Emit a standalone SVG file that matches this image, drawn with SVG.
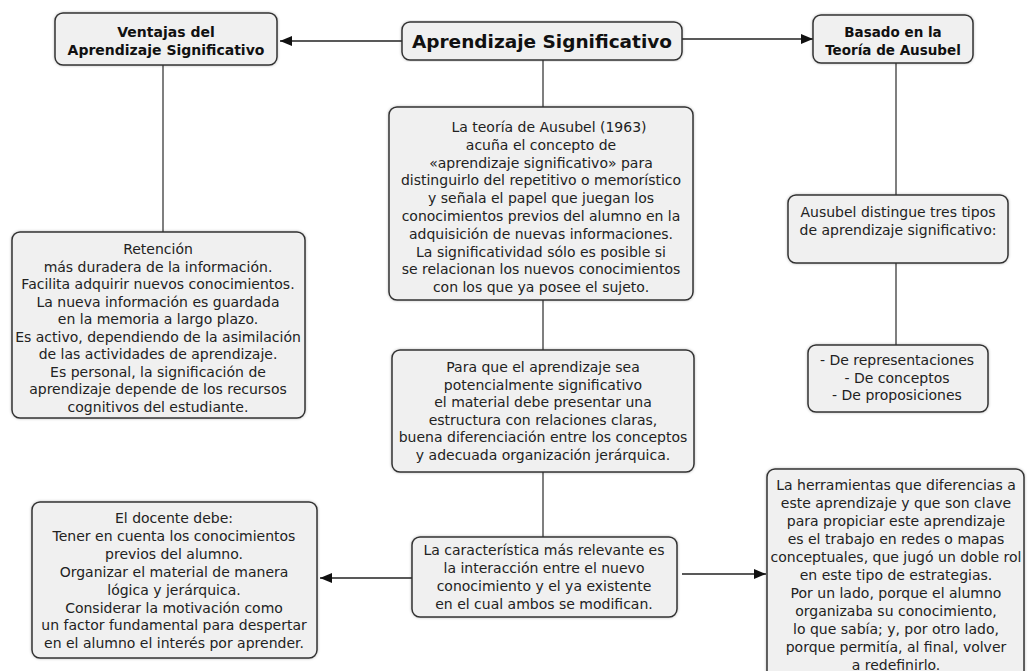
<svg xmlns="http://www.w3.org/2000/svg" width="1028" height="671" viewBox="0 0 1028 671">
<style>
.box{fill:#f0f0f0;stroke:#333;stroke-width:1.5}
.t{font-family:"DejaVu Sans",Verdana,sans-serif;font-size:14px;fill:#222;text-anchor:middle}
.b{font-family:"DejaVu Sans",Verdana,sans-serif;font-weight:bold;font-size:14px;fill:#111;text-anchor:middle}
.ln{stroke:#555;stroke-width:1.5;fill:none}
.ar{stroke:#222;stroke-width:1.5;fill:none;marker-end:url(#ah)}
</style>
<defs>
<marker id="ah" viewBox="0 0 12 10" refX="12" refY="5" markerWidth="12" markerHeight="10" markerUnits="userSpaceOnUse" orient="auto">
<path d="M0,0 L12,5 L0,10 z" fill="#111"/>
</marker>
<filter id="sh" x="-5%" y="-5%" width="110%" height="110%">
<feGaussianBlur in="SourceAlpha" stdDeviation="1.5"/>
<feOffset dx="0" dy="0" result="b"/>
<feComponentTransfer><feFuncA type="linear" slope="0.25"/></feComponentTransfer>
<feMerge><feMergeNode/><feMergeNode in="SourceGraphic"/></feMerge>
</filter>
</defs>
<rect width="1028" height="671" fill="#fff"/>

<g id="connectors">
<line class="ar" x1="402" y1="41" x2="280" y2="41"/>
<line class="ar" x1="682" y1="39" x2="813" y2="39"/>
<line class="ln" x1="163" y1="65" x2="163" y2="232"/>
<line class="ln" x1="543" y1="60" x2="543" y2="107"/>
<line class="ln" x1="543" y1="300" x2="543" y2="350"/>
<line class="ln" x1="543" y1="472" x2="543" y2="537"/>
<line class="ln" x1="896" y1="63" x2="896" y2="195"/>
<line class="ln" x1="896" y1="263" x2="896" y2="345"/>
<line class="ar" x1="412" y1="578" x2="320" y2="578"/>
<line class="ar" x1="682" y1="574" x2="766" y2="574"/>
</g>

<g id="main">
<rect class="box" filter="url(#sh)" x="402" y="22" width="280" height="38" rx="8"/>
<text class="b" style="font-size:18.5px" x="542" y="48">Aprendizaje Significativo</text>
</g>

<g id="ventajas">
<rect class="box" filter="url(#sh)" x="55" y="13" width="222" height="52" rx="8"/>
<text class="b" x="166" y="37">Ventajas del<tspan x="166" dy="18">Aprendizaje Significativo</tspan></text>
</g>

<g id="basado">
<rect class="box" filter="url(#sh)" x="813" y="15" width="160" height="48" rx="8"/>
<text class="b" style="font-size:13.5px" x="893" y="37">Basado en la<tspan x="893" dy="18">Teoría de Ausubel</tspan></text>
</g>

<g id="retencion">
<rect class="box" filter="url(#sh)" x="12" y="232" width="293" height="186" rx="8"/>
<text class="t" x="158" y="254">Retención<tspan x="158" dy="17.5">más duradera de la información.</tspan><tspan x="158" dy="17.5">Facilita adquirir nuevos conocimientos.</tspan><tspan x="158" dy="17.5">La nueva información es guardada</tspan><tspan x="158" dy="17.5">en la memoria a largo plazo.</tspan><tspan x="158" dy="17.5">Es activo, dependiendo de la asimilación</tspan><tspan x="158" dy="17.5">de las actividades de aprendizaje.</tspan><tspan x="158" dy="17.5">Es personal, la significación de</tspan><tspan x="158" dy="17.5">aprendizaje depende de los recursos</tspan><tspan x="158" dy="17.5">cognitivos del estudiante.</tspan></text>
</g>

<g id="teoria">
<rect class="box" filter="url(#sh)" x="389" y="107" width="304" height="193" rx="8"/>
<text class="t" x="549" y="132">La teoría de Ausubel (1963)<tspan x="541" dy="17.8">acuña el concepto de</tspan><tspan x="541" dy="17.8">«aprendizaje significativo» para</tspan><tspan x="541" dy="17.8">distinguirlo del repetitivo o memorístico</tspan><tspan x="541" dy="17.8">y señala el papel que juegan los</tspan><tspan x="541" dy="17.8">conocimientos previos del alumno en la</tspan><tspan x="541" dy="17.8">adquisición de nuevas informaciones.</tspan><tspan x="541" dy="17.8">La significatividad sólo es posible si</tspan><tspan x="541" dy="17.8">se relacionan los nuevos conocimientos</tspan><tspan x="541" dy="17.8">con los que ya posee el sujeto.</tspan></text>
</g>

<g id="ausubel">
<rect class="box" filter="url(#sh)" x="788" y="195" width="220" height="68" rx="8"/>
<text class="t" x="898" y="217">Ausubel distingue tres tipos<tspan x="898" dy="18">de aprendizaje significativo:</tspan></text>
</g>

<g id="tipos">
<rect class="box" filter="url(#sh)" x="808" y="345" width="180" height="67" rx="8"/>
<text class="t" x="897" y="365">- De representaciones<tspan x="897" dy="17.5">- De conceptos</tspan><tspan x="897" dy="17.5">- De proposiciones</tspan></text>
</g>

<g id="paraque">
<rect class="box" filter="url(#sh)" x="392" y="350" width="302" height="122" rx="8"/>
<text class="t" x="543" y="372">Para que el aprendizaje sea<tspan x="543" dy="17.6">potencialmente significativo</tspan><tspan x="543" dy="17.6">el material debe presentar una</tspan><tspan x="543" dy="17.6">estructura con relaciones claras,</tspan><tspan x="543" dy="17.6">buena diferenciación entre los conceptos</tspan><tspan x="543" dy="17.6">y adecuada organización jerárquica.</tspan></text>
</g>

<g id="caracteristica">
<rect class="box" filter="url(#sh)" x="412" y="537" width="265" height="80" rx="8"/>
<text class="t" x="544" y="555">La característica más relevante es<tspan x="544" dy="18">la interacción entre el nuevo</tspan><tspan x="544" dy="18">conocimiento y el ya existente</tspan><tspan x="544" dy="18">en el cual ambos se modifican.</tspan></text>
</g>

<g id="docente">
<rect class="box" filter="url(#sh)" x="32" y="502" width="285" height="156" rx="8"/>
<text class="t" x="174" y="523">El docente debe:<tspan x="174" dy="17.9">Tener en cuenta los conocimientos</tspan><tspan x="174" dy="17.9">previos del alumno.</tspan><tspan x="174" dy="17.9">Organizar el material de manera</tspan><tspan x="174" dy="17.9">lógica y jerárquica.</tspan><tspan x="174" dy="17.9">Considerar la motivación como</tspan><tspan x="174" dy="17.9">un factor fundamental para despertar</tspan><tspan x="174" dy="17.9">en el alumno el interés por aprender.</tspan></text>
</g>

<g id="herramientas">
<rect class="box" filter="url(#sh)" x="767" y="469" width="257" height="220" rx="8"/>
<text class="t" x="896" y="490">La herramientas que diferencias a<tspan x="896" dy="18">este  aprendizaje y que son clave</tspan><tspan x="896" dy="18">para propiciar este aprendizaje</tspan><tspan x="896" dy="18">es el trabajo en redes o mapas</tspan><tspan x="896" dy="18">conceptuales, que jugó un doble rol</tspan><tspan x="896" dy="18">en este tipo de estrategias.</tspan><tspan x="896" dy="18">Por un lado, porque el alumno</tspan><tspan x="896" dy="18">organizaba su conocimiento,</tspan><tspan x="896" dy="18">lo que sabía; y, por otro lado,</tspan><tspan x="896" dy="18">porque permitía, al final, volver</tspan><tspan x="896" dy="18">a redefinirlo.</tspan></text>
</g>
</svg>
